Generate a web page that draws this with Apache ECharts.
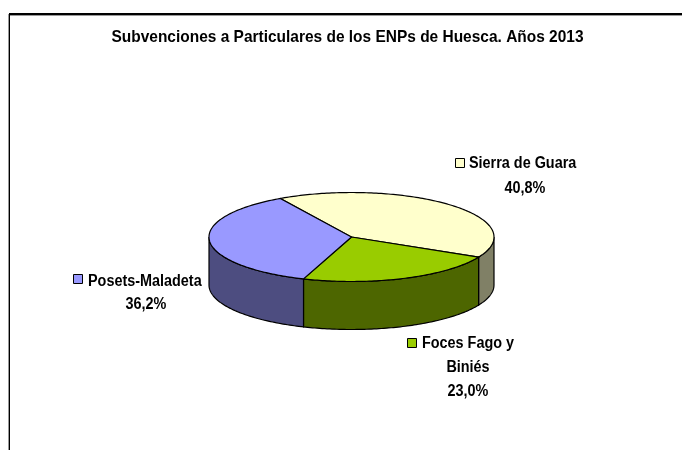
<!DOCTYPE html>
<html>
<head>
<meta charset="utf-8">
<style>html,body{margin:0;padding:0;background:#fff}#chart{width:682px;height:450px}</style>
<script src="https://cdn.jsdelivr.net/npm/echarts@6/dist/echarts.min.js"></script>
</head>
<body>
<div id="chart"></div>
<script>
// data, clockwise from the first slice
var chartTitle = "Subvenciones a Particulares de los ENPs de Huesca. Años 2013";
var categories = ["Sierra de Guara", "Foces Fago y Biniés", "Posets-Maladeta"];
var values = [40.8, 23.0, 36.2];
var topColors = ["#FFFFCC", "#99CC00", "#9999FF"];
var sideColors = ["#808066", "#4D6600", "#4D4D80"];

// pie shape (flattened disc)
var cx = 351.5, cy = 237, rx = 142.5, ry = 44.5, depth = 48;
var startDeg = -30;

// where each label goes: key box, first line start, centre of the other lines
var labelSpots = [
  { keyX: 455.5, keyY: 158.5, textX: 469, textY: 164, midX: 525, lines: [["Sierra de Guara"]], valueY: 189 },
  { keyX: 407.5, keyY: 338.5, textX: 422, textY: 344, midX: 468, lines: [["Foces Fago y"], ["Biniés", 368]], valueY: 392 },
  { keyX: 73.5, keyY: 274.5, textX: 88, textY: 282, midX: 146, lines: [["Posets-Maladeta"]], valueY: 305 }
];

// the original text is tall and squeezed, so big font + scaleX
var labelFont = "bold 16px 'Liberation Sans', Arial, sans-serif";
var titleFont = "bold 17px 'Liberation Sans', Arial, sans-serif";
var squeeze = 0.9;
var total = values.reduce(function (a, b) { return a + b; }, 0);

function rimPoint(deg, dy) {
  var t = deg * Math.PI / 180;
  return [cx + rx * Math.sin(t), cy - ry * Math.cos(t) + dy];
}

function arcPoints(from, to, dy) {
  var pts = [];
  for (var d = from; d < to; d += 1) pts.push(rimPoint(d, dy));
  pts.push(rimPoint(to, dy));
  return pts;
}

function squeezedText(str, x, y, align) {
  return {
    type: "text",
    x: x,
    y: y,
    scaleX: squeeze,
    style: { text: str, x: 0, y: 0, font: labelFont, fill: "#000", align: align, verticalAlign: "middle" }
  };
}

function renderSlice(params, api) {
  var i = params.dataIndex;
  var before = 0;
  for (var k = 0; k < i; k++) before += values[k];
  var from = startDeg + before / total * 360;
  var to = from + api.value(0) / total * 360;
  var children = [];

  // only the front half of the rim is visible (90 to 270 deg), also checked one turn up
  [0, 360].forEach(function (turn) {
    var a = Math.max(from + turn, 90), b = Math.min(to + turn, 270);
    if (a < b) {
      var wall = arcPoints(a, b, 0).concat(arcPoints(a, b, depth).reverse());
      children.push({
        type: "polygon",
        shape: { points: wall },
        style: { fill: sideColors[i], stroke: "#000", lineWidth: 1.2 }
      });
    }
  });

  children.push({
    type: "polygon",
    shape: { points: [[cx, cy]].concat(arcPoints(from, to, 0)) },
    style: { fill: topColors[i], stroke: "#000", lineWidth: 1.2 }
  });

  // data label with its little key box
  var spot = labelSpots[i];
  children.push({
    type: "rect",
    shape: { x: spot.keyX, y: spot.keyY, width: 9, height: 9 },
    style: { fill: topColors[i], stroke: "#000", lineWidth: 1 }
  });
  spot.lines.forEach(function (line, n) {
    if (n == 0) children.push(squeezedText(line[0], spot.textX, spot.textY, "left"));
    else children.push(squeezedText(line[0], spot.midX, line[1], "center"));
  });
  var pct = api.value(0).toFixed(1).replace(".", ",") + "%";
  children.push(squeezedText(pct, spot.midX, spot.valueY, "center"));
  return { type: "group", children: children };
}

var myChart = echarts.init(document.getElementById("chart"));
myChart.setOption({
  animation: false,
  backgroundColor: "#fff",
  // chart frame runs off the page to the right and bottom
  graphic: [
    { type: "line", shape: { x1: 8, y1: 15.5, x2: 682, y2: 15.5 }, style: { stroke: "#999", lineWidth: 1 } },
    { type: "line", shape: { x1: 8.5, y1: 14, x2: 8.5, y2: 450 }, style: { stroke: "#999", lineWidth: 1 } },
    { type: "line", shape: { x1: 9, y1: 14, x2: 682, y2: 14 }, style: { stroke: "#000", lineWidth: 2 } },
    { type: "line", shape: { x1: 9.5, y1: 14, x2: 9.5, y2: 450 }, style: { stroke: "#000", lineWidth: 1 } },
    {
      type: "text",
      x: 347.5,
      y: 37,
      scaleX: 0.91,
      style: { text: chartTitle, font: titleFont, fill: "#000", align: "center", verticalAlign: "middle" }
    }
  ],
  series: [{
    type: "custom",
    coordinateSystem: "none",
    renderItem: renderSlice,
    data: values.map(function (v, i) { return { name: categories[i], value: [v] }; })
  }]
});
</script>
</body>
</html>
